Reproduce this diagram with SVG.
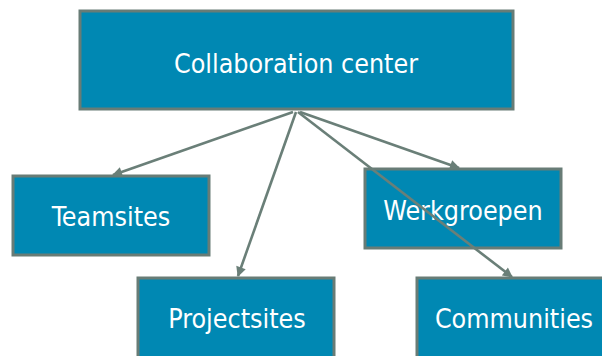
<svg xmlns="http://www.w3.org/2000/svg" width="602" height="356" viewBox="0 0 602 356">
<style>
.box{fill:#0088b3;stroke:#687c76;stroke-width:3}
.lbl{fill:#ffffff;font-family:"DejaVu Sans Condensed","DejaVu Sans",sans-serif;font-stretch:condensed;font-size:26.6px;text-anchor:middle;dominant-baseline:central}
.con{stroke:#6a7f78;stroke-width:2.6;fill:none;marker-end:url(#ah)}
</style>
<defs>
<marker id="ah" viewBox="0 0 10 10" refX="9" refY="5" markerWidth="11" markerHeight="10" markerUnits="userSpaceOnUse" orient="auto">
<path d="M0,0 L10,5 L0,10 z" fill="#6a7f78"/>
</marker>
</defs>
<g id="n-center"><rect class="box" x="80" y="11" width="433" height="98"/><text class="lbl" x="296" y="63">Collaboration center</text></g>
<g id="n-teamsites"><rect class="box" x="13" y="176" width="196" height="79"/><text class="lbl" x="111" y="216">Teamsites</text></g>
<g id="n-werkgroepen"><rect class="box" x="365" y="169" width="196" height="79"/><text class="lbl" x="463" y="210">Werkgroepen</text></g>
<g id="n-projectsites"><rect class="box" x="138" y="278" width="196" height="82"/><text class="lbl" x="237" y="318">Projectsites</text></g>
<g id="n-communities"><rect class="box" x="417" y="278" width="196" height="82"/><text class="lbl" x="514" y="318">Communities</text></g>
<g id="connectors">
<line class="con" x1="293" y1="112" x2="113" y2="175"/>
<line class="con" x1="296" y1="112" x2="238" y2="276"/>
<line class="con" x1="300" y1="112" x2="459" y2="168"/>
<line class="con" x1="298" y1="112" x2="512" y2="277"/>
</g>
</svg>
